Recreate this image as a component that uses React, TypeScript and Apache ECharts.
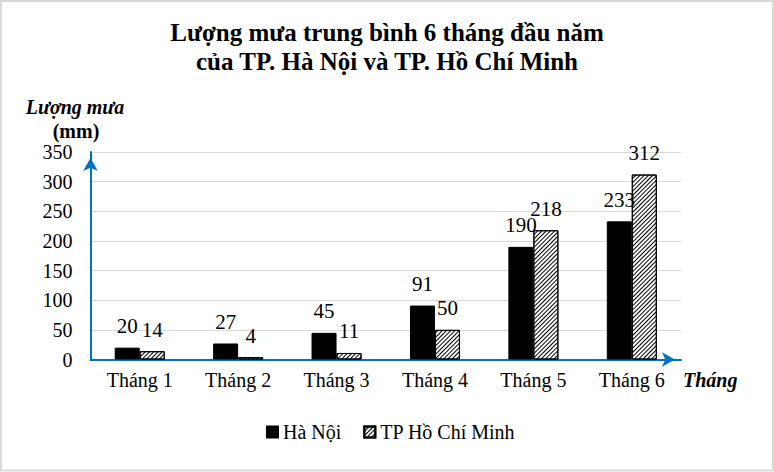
import React, { useEffect, useRef } from "react";
import * as echarts from "echarts";

const titleText = "Lượng mưa trung bình 6 tháng đầu năm\ncủa TP. Hà Nội và TP. Hồ Chí Minh";
const categories = ["Tháng 1", "Tháng 2", "Tháng 3", "Tháng 4", "Tháng 5", "Tháng 6"];
const seriesNames = ["Hà Nội", "TP Hồ Chí Minh"];
const haNoiValues = [20, 27, 45, 91, 190, 233];
const hcmValues = [14, 4, 11, 50, 218, 312];
const yMin = 0;
const yMax = 350;
const yInterval = 50;
const yNameLine1 = "Lượng mưa";
const yNameLine2 = "(mm)";
const xName = "Tháng";

const FONT = "Liberation Serif, Times New Roman, serif";
const AXIS_BLUE = "#0070C0";

export default function App() {
  const ref = useRef<HTMLDivElement>(null);

  useEffect(() => {
    if (!ref.current) return;
    const chart = echarts.init(ref.current, undefined, { renderer: "svg" });

    const labelStyle = {
      show: true,
      position: "top" as const,
      distance: 11,
      fontFamily: FONT,
      fontSize: 21,
      color: "#000",
    };

    chart.setOption({
      animation: false,
      backgroundColor: "#fff",
      title: {
        text: titleText,
        left: "center",
        top: 18,
        padding: 0,
        textStyle: {
          fontFamily: FONT,
          fontSize: 25,
          fontWeight: "bold",
          lineHeight: 29,
          color: "#000",
        },
      },
      legend: {
        left: 266,
        top: 422,
        padding: 0,
        itemWidth: 11,
        itemHeight: 11,
        itemGap: 22,
        icon: "rect",
        textStyle: { fontFamily: FONT, fontSize: 20, color: "#000" },
        data: seriesNames,
      },
      grid: { left: 90.5, right: 93, top: 152, bottom: 112.5, containLabel: false },
      xAxis: {
        type: "category",
        data: categories,
        axisTick: { show: false },
        axisLine: {
          show: true,
          lineStyle: { color: AXIS_BLUE, width: 2 },
          symbol: ["none", "arrow"],
          symbolSize: [11, 13],
          symbolOffset: [0, -6],
        },
        axisLabel: { fontFamily: FONT, fontSize: 20, color: "#000", margin: 10 },
      },
      yAxis: {
        type: "value",
        min: yMin,
        max: yMax,
        interval: yInterval,
        axisTick: { show: false },
        axisLine: {
          show: true,
          lineStyle: { color: AXIS_BLUE, width: 2 },
          symbol: ["none", "arrow"],
          symbolSize: [11, 13],
          symbolOffset: [0, -6],
        },
        splitLine: { show: true, lineStyle: { color: "#d9d9d9", width: 1 } },
        axisLabel: { fontFamily: FONT, fontSize: 20, color: "#000", margin: 18 },
      },
      series: [
        {
          name: seriesNames[0],
          type: "bar",
          data: haNoiValues,
          barWidth: 25,
          barGap: "0%",
          itemStyle: { color: "#000", borderColor: "#000", borderWidth: 1 },
          label: labelStyle,
        },
        {
          name: seriesNames[1],
          type: "bar",
          data: hcmValues,
          barWidth: 25,
          barGap: "0%",
          itemStyle: {
            color: "#fff",
            borderColor: "#000",
            borderWidth: 1,
            decal: {
              symbol: "rect",
              symbolSize: 1,
              color: "#000",
              dashArrayX: [1, 0],
              dashArrayY: [1, 2],
              rotation: -Math.PI / 4,
            },
          },
          label: labelStyle,
        },
      ],
      graphic: [
        {
          type: "rect",
          silent: true,
          shape: { x: 1, y: 1, width: 772, height: 469.5 },
          style: { fill: "none", stroke: "#d9d9d9", lineWidth: 2 },
          z: 100,
        },
        {
          type: "text",
          x: 75,
          y: 107,
          style: {
            text: yNameLine1,
            fontFamily: FONT,
            fontSize: 20,
            fontWeight: "bold",
            fontStyle: "italic",
            fill: "#000",
            align: "center",
            verticalAlign: "middle",
          },
        },
        {
          type: "text",
          x: 76,
          y: 131,
          style: {
            text: yNameLine2,
            fontFamily: FONT,
            fontSize: 20,
            fontWeight: "bold",
            fill: "#000",
            align: "center",
            verticalAlign: "middle",
          },
        },
        {
          type: "text",
          x: 683,
          y: 380,
          style: {
            text: xName,
            fontFamily: FONT,
            fontSize: 20,
            fontWeight: "bold",
            fontStyle: "italic",
            fill: "#000",
            align: "left",
            verticalAlign: "middle",
          },
        },
      ],
    });

    return () => chart.dispose();
  }, []);

  return (
    <div
      ref={ref}
      style={{ position: "absolute", left: 0, top: 0, width: 774, height: 472 }}
    />
  );
}
